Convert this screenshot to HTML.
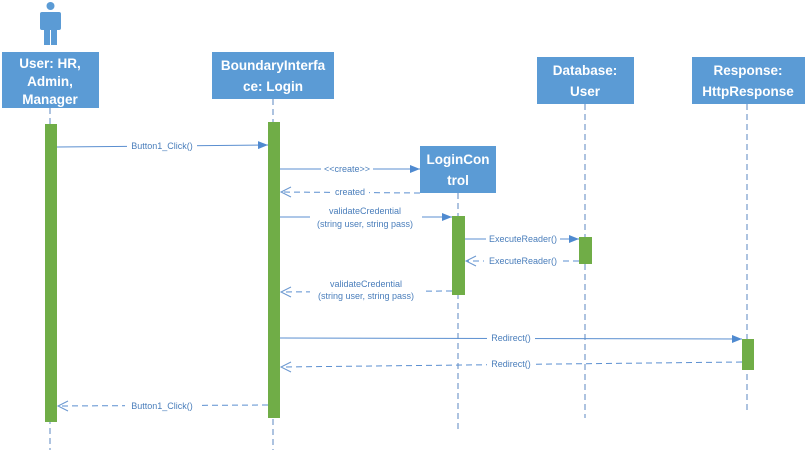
<!DOCTYPE html>
<html><head><meta charset="utf-8"><style>
html,body{margin:0;padding:0;background:#fff;}
svg{display:block;}
.b{font-family:"Liberation Sans",sans-serif;font-weight:bold;font-size:13.5px;fill:#fff;text-anchor:middle;}
.l{font-family:"Liberation Sans",sans-serif;font-size:9px;fill:#4a7ebb;text-anchor:middle;}
.ll{stroke:#5b87c0;stroke-width:1;stroke-dasharray:6,4;fill:none;}
.s{stroke:#5b8fd0;stroke-width:1;fill:none;}
.d{stroke:#5b8fd0;stroke-width:1;fill:none;stroke-dasharray:6,4;}
.bg{fill:#fff;}
</style></head><body>
<svg width="806" height="450" viewBox="0 0 806 450" xmlns="http://www.w3.org/2000/svg">
<defs>
<marker id="f" markerWidth="10" markerHeight="8" refX="10" refY="4" orient="auto" markerUnits="userSpaceOnUse"><path d="M0,0 L10,4 L0,8z" fill="#4f8ad0"/></marker>
</defs>
<g fill="#5b9bd5">
<circle cx="50.5" cy="6" r="4"/>
<rect x="40" y="12" width="21" height="18" rx="2"/>
<rect x="44" y="28" width="6" height="17"/>
<rect x="51" y="28" width="6" height="17"/>
</g>
<line class="ll" x1="50" y1="108" x2="50" y2="450"/>
<line class="ll" x1="273" y1="99" x2="273" y2="450"/>
<line class="ll" x1="458" y1="193" x2="458" y2="432"/>
<line class="ll" x1="585" y1="104" x2="585" y2="418"/>
<line class="ll" x1="747" y1="104" x2="747" y2="412"/>
<rect x="2" y="52" width="97" height="56" fill="#5b9bd5"/>
<text class="b" x="50" y="68">User: HR,</text>
<text class="b" x="50" y="86">Admin,</text>
<text class="b" x="50" y="104">Manager</text>
<rect x="212" y="52" width="122" height="47" fill="#5b9bd5"/>
<text class="b" x="273" y="70">BoundaryInterfa</text>
<text class="b" x="273" y="91">ce: Login</text>
<rect x="420" y="146" width="76" height="47" fill="#5b9bd5"/>
<text class="b" x="458" y="164">LoginCon</text>
<text class="b" x="458" y="185">trol</text>
<rect x="537" y="57" width="97" height="47" fill="#5b9bd5"/>
<text class="b" x="585" y="75">Database:</text>
<text class="b" x="585" y="96">User</text>
<rect x="692" y="57" width="113" height="47" fill="#5b9bd5"/>
<text class="b" x="748" y="75">Response:</text>
<text class="b" x="748" y="96">HttpResponse</text>
<g fill="#70ad47">
<rect x="45" y="124" width="12" height="298"/>
<rect x="268" y="122" width="12" height="296"/>
<rect x="452" y="216" width="13" height="79"/>
<rect x="579" y="237" width="13" height="27"/>
<rect x="742" y="339" width="12" height="31"/>
</g>
<line class="s" x1="57" y1="147" x2="268" y2="145" marker-end="url(#f)"/>
<rect class="bg" x="127" y="140" width="70" height="11"/><text class="l" x="162" y="149">Button1_Click()</text>

<line class="s" x1="280" y1="169" x2="420" y2="169" marker-end="url(#f)"/>
<rect class="bg" x="321" y="164" width="52" height="10"/><text class="l" x="347" y="172">&lt;&lt;create&gt;&gt;</text>

<line class="d" x1="420" y1="193" x2="281" y2="192"/>
<path d="M291,187 L281,192 L291,197" fill="none" stroke="#6b98d0"/>
<rect class="bg" x="331" y="187" width="38" height="10"/><text class="l" x="350" y="195">created</text>

<line class="s" x1="280" y1="217" x2="452" y2="217" marker-end="url(#f)"/>
<rect class="bg" x="310" y="205" width="112" height="24"/>
<text class="l" x="365" y="214">validateCredential</text>
<text class="l" x="365" y="227">(string user, string pass)</text>

<line class="s" x1="465" y1="239" x2="579" y2="239" marker-end="url(#f)"/>
<rect class="bg" x="486" y="234" width="74" height="10"/><text class="l" x="523" y="242">ExecuteReader()</text>

<line class="d" x1="579" y1="261" x2="466" y2="261"/>
<path d="M476,256 L466,261 L476,266" fill="none" stroke="#6b98d0"/>
<rect class="bg" x="484" y="256" width="78" height="10"/><text class="l" x="523" y="264">ExecuteReader()</text>

<line class="d" x1="452" y1="291" x2="281" y2="292"/>
<path d="M291,287 L281,292 L291,297" fill="none" stroke="#6b98d0"/>
<rect class="bg" x="310" y="278" width="112" height="24"/>
<text class="l" x="366" y="287">validateCredential</text>
<text class="l" x="366" y="299">(string user, string pass)</text>

<line class="s" x1="280" y1="338" x2="742" y2="339" marker-end="url(#f)"/>
<rect class="bg" x="487" y="333" width="48" height="10"/><text class="l" x="511" y="341">Redirect()</text>

<line class="d" x1="742" y1="362" x2="281" y2="367"/>
<path d="M291,362 L281,367 L291,372" fill="none" stroke="#6b98d0"/>
<rect class="bg" x="487" y="359" width="48" height="10"/><text class="l" x="511" y="367">Redirect()</text>

<line class="d" x1="268" y1="405" x2="58" y2="406"/>
<path d="M68,401 L58,406 L68,411" fill="none" stroke="#6b98d0"/>
<rect class="bg" x="125" y="401" width="74" height="10"/><text class="l" x="162" y="409">Button1_Click()</text>
</svg>
</body></html>
